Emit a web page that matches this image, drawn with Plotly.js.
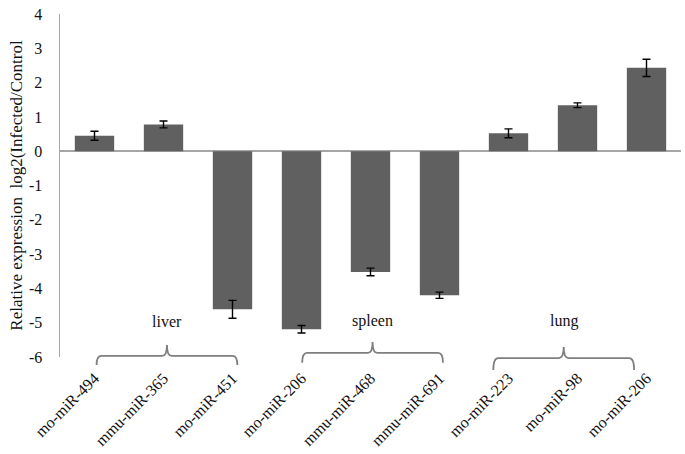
<!DOCTYPE html>
<html>
<head>
<meta charset="utf-8">
<script src="https://cdn.plot.ly/plotly-3.0.1.min.js"></script>
<style>
  html, body { margin: 0; padding: 0; background: #fff; }
  #chart { width: 685px; height: 454px; }
</style>
</head>
<body>
<div id="chart"></div>
<script>
// miRNA names along the x axis
const categories = ['mo-miR-494', 'mmu-miR-365', 'mo-miR-451',
                    'mo-miR-206', 'mmu-miR-468', 'mmu-miR-691',
                    'mo-miR-223', 'mo-miR-98', 'mo-miR-206'];
// log2(Infected/Control)
const values = [0.45, 0.78, -4.61, -5.19, -3.52, -4.20, 0.52, 1.34, 2.43];
const errors = [0.13, 0.10, 0.26, 0.11, 0.11, 0.09, 0.13, 0.07, 0.25];

// tissue groups: label, first and last bar index
const groupNames = ['liver', 'spleen', 'lung'];
const groupFirst = [0, 3, 6];
const groupLast = [2, 5, 8];

const yTicks = [4, 3, 2, 1, 0, -1, -2, -3, -4, -5, -6];
const yTickText = ['4', '3', '2', '1', '0', '-1', '-2', '-3', '-4', '-5', '-6'];

const FONT = 'Liberation Serif, Times New Roman, serif';

function bracePath(x0, x1, yh, ye, yt) {
    const xm = (x0 + x1) / 2;
    const r = 0.07;
    return 'M' + x0 + ',' + ye +
        ' Q' + x0 + ',' + yh + ' ' + (x0 + r) + ',' + yh +
        ' L' + (xm - r) + ',' + yh +
        ' Q' + xm + ',' + yh + ' ' + xm + ',' + yt +
        ' Q' + xm + ',' + yh + ' ' + (xm + r) + ',' + yh +
        ' L' + (x1 - r) + ',' + yh +
        ' Q' + x1 + ',' + yh + ' ' + x1 + ',' + ye;
}

// small per-group nudges, the braces in the picture are not perfectly aligned
const braceShift = [0.05, 0.03, -0.2];
const braceY = [[0.003, -0.023, 0.035], [0.012, -0.017, 0.044], [-0.003, -0.038, 0.029]];

const shapes = [];
const annotations = [];
groupNames.forEach(function(name, i) {
    const x0 = groupFirst[i] + braceShift[i] - 0.02;
    const x1 = groupLast[i] + braceShift[i] + 0.02;
    const yy = braceY[i];
    shapes.push({
        type: 'path', xref: 'x', yref: 'paper',
        path: bracePath(x0, x1, yy[0], yy[1], yy[2]),
        line: { color: '#7f7f7f', width: 1.8 }
    });
    annotations.push({
        x: (x0 + x1) / 2, y: 0.073, xref: 'x', yref: 'paper',
        text: name, showarrow: false,
        font: { family: FONT, size: 16, color: '#111' }
    });
});

const trace = {
    type: 'bar',
    x: categories.map(function(c, i) { return i; }),
    y: values,
    marker: { color: '#606060' },
    error_y: { type: 'data', array: errors, visible: true, color: '#000', thickness: 1.4, width: 4 },
    hoverinfo: 'y'
};

const layout = {
    width: 685, height: 454,
    margin: { l: 60, r: 4, t: 14, b: 97 },
    paper_bgcolor: '#fff', plot_bgcolor: '#fff',
    showlegend: false,
    bargap: 0.43,
    font: { family: FONT, size: 16, color: '#111' },
    xaxis: {
        range: [-0.5, 8.5],
        tickmode: 'array',
        tickvals: categories.map(function(c, i) { return i; }),
        ticktext: categories,
        tickangle: -45,
        ticks: '',
        ticklabelstandoff: 8,
        showline: false, showgrid: false, zeroline: false,
        tickfont: { family: FONT, size: 16, color: '#111' }
    },
    yaxis: {
        range: [-6, 4],
        tickmode: 'array',
        tickvals: yTicks,
        ticktext: yTickText,
        ticks: '',
        ticklabelstandoff: 13,
        showline: true, linecolor: '#a6a6a6', linewidth: 1.5,
        showgrid: false,
        zeroline: true, zerolinecolor: '#a6a6a6', zerolinewidth: 1.5,
        tickfont: { family: FONT, size: 16, color: '#111' },
        title: { text: 'Relative expression  log2(Infected/Control', standoff: 2,
                 font: { family: FONT, size: 17, color: '#111' } }
    },
    shapes: shapes,
    annotations: annotations
};

Plotly.newPlot('chart', [trace], layout, { displayModeBar: false, staticPlot: true });
</script>
</body>
</html>
